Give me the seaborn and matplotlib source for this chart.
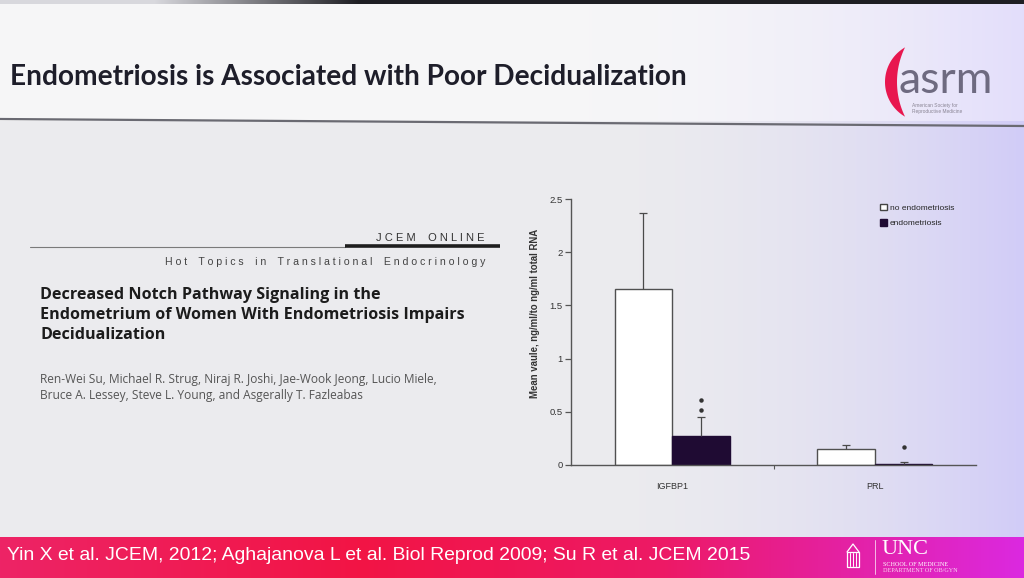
import numpy as np
import pandas as pd
import matplotlib
matplotlib.use("Agg")
import matplotlib.pyplot as plt
import seaborn as sns
from matplotlib.patches import Polygon, Patch, Rectangle

# ---------------- data ----------------
genes = ["IGFBP1", "PRL"]
groups = ["no endometriosis", "endometriosis"]
mean_no = [1.65, 0.15]
mean_endo = [0.27, 0.01]
err_no = [0.72, 0.04]
err_endo = [0.18, 0.02]
sig_gene = ["IGFBP1", "IGFBP1", "PRL"]
sig_y = [0.52, 0.61, 0.17]
y_ticks = [0, 0.5, 1, 1.5, 2, 2.5]
y_tick_labels = ["0", "0.5", "1", "1.5", "2", "2.5"]
y_label = "Mean vaule, ng/ml/to ng/ml total RNA"

slide_title = "Endometriosis is Associated with Poor Decidualization"
paper_title = ["Decreased Notch Pathway Signaling in the",
               "Endometrium of Women With Endometriosis Impairs",
               "Decidualization"]
authors = ["Ren-Wei Su, Michael R. Strug, Niraj R. Joshi, Jae-Wook Jeong, Lucio Miele,",
           "Bruce A. Lessey, Steve L. Young, and Asgerally T. Fazleabas"]
journal = "JCEM ONLINE"
section = "Hot Topics in Translational Endocrinology"
footer = "Yin X et al. JCEM, 2012; Aghajanova L et al. Biol Reprod 2009; Su R et al. JCEM 2015"

sns.set_style("white")
plt.rcParams["font.family"] = ["Liberation Sans", "DejaVu Sans"]

W, H = 1024, 578
fig = plt.figure(figsize=(W / 100, H / 100), dpi=100)

# ---------------- slide background ----------------
bg = fig.add_axes([0, 0, 1, 1], zorder=-10)
bg.set_axis_off()
xs = np.linspace(0, 1, W)
ramp = np.clip((xs - 0.55) / 0.45, 0, 1) ** 2
base_l = np.array([0.925, 0.925, 0.935])
base_r = np.array([0.82, 0.80, 0.97])
row = base_l[None, :] * (1 - ramp[:, None]) + base_r[None, :] * ramp[:, None]
img = np.empty((H, W, 3))
img[:] = row[None, :, :]
tb_l = np.array([0.965, 0.965, 0.972])
tb_r = np.array([0.89, 0.87, 0.985])
trow = tb_l[None, :] * (1 - ramp[:, None]) + tb_r[None, :] * ramp[:, None]
img[4:121] = trow[None]
dark_ramp = np.clip((xs - 0.15) / 0.2, 0, 1)
drow = np.array([0.85, 0.85, 0.87])[None, :] * (1 - dark_ramp[:, None]) + np.array([0.12, 0.12, 0.14])[None, :] * dark_ramp[:, None]
img[0:4] = drow[None]
bx = [0.0, 0.35, 0.65, 1.0]
band = np.stack([np.interp(xs, bx, [0.93, 0.95, 0.93, 0.86]),
                 np.interp(xs, bx, [0.14, 0.08, 0.10, 0.16]),
                 np.interp(xs, bx, [0.40, 0.27, 0.40, 0.88])], axis=1)
img[537:] = band[None]
bg.imshow(img, aspect="auto", extent=[0, W, H, 0], interpolation="bilinear")
bg.set_xlim(0, W)
bg.set_ylim(H, 0)

# title + underline
bg.plot([0, W], [119, 126], color="#6a6a72", lw=1.6)
bg.text(10, 77, slide_title, fontsize=20.2, family=["Lato", "DejaVu Sans"],
        weight="bold", color="#1e1e2a", va="center", ha="left")

# asrm logo
ang = np.linspace(np.radians(120), np.radians(240), 60)
outer = np.column_stack([925 + 40 * np.cos(ang), 82 + 40 * np.sin(ang)])
cx, r = 975.8, 78.8
t_top = np.arctan2(82 - 40 * np.sin(np.radians(60)) - 82, (925 + 40 * np.cos(np.radians(120))) - cx)
ang2 = np.linspace(np.pi + abs(np.pi - abs(t_top)), np.pi - abs(np.pi - abs(t_top)), 60)
inner = np.column_stack([cx + r * np.cos(ang2), 82 + r * np.sin(ang2)])
bg.add_patch(Polygon(np.vstack([outer, inner]), closed=True, color="#e8174f", lw=0))
bg.text(898, 93, "asrm", fontsize=32, family=["Lato", "DejaVu Sans"], color="#6e6a80",
        va="baseline", ha="left")
bg.text(912, 105, "American Society for", fontsize=3.5, color="#8a8594", va="center")
bg.text(912, 111, "Reproductive Medicine", fontsize=3.5, color="#8a8594", va="center")

# journal header block
def spaced(s):
    return " ".join(list(s)).replace("   ", "    ")

bg.text(485, 238, spaced(journal), fontsize=8.0, color="#333333", ha="right", va="center")
bg.plot([30, 345], [247, 247], color="#7a7a7a", lw=0.8)
bg.plot([345, 500], [246, 246], color="#1e1e1e", lw=2.6, solid_capstyle="butt")
bg.text(485, 262, spaced(section), fontsize=7.6, color="#444444", ha="right", va="center")
for i, line in enumerate(paper_title):
    bg.text(40, 295 + 20 * i, line, fontsize=11.6, family=["Open Sans", "DejaVu Sans"],
            weight="bold", color="#1c1c1c", ha="left", va="center")
for i, line in enumerate(authors):
    bg.text(40, 380 + 15 * i, line, fontsize=8.6, family=["Open Sans", "DejaVu Sans"],
            color="#555555", ha="left", va="center")

# footer
bg.text(7, 556, footer, fontsize=13.95, family=["Liberation Sans Narrow", "Liberation Sans"],
        color="white", ha="left", va="center")
# UNC logo
bg.add_patch(Rectangle((847, 552), 12, 15, fill=False, ec="white", lw=0.9))
bg.plot([847, 853, 859], [552, 544, 552], color="white", lw=0.9)
for xx in [850, 853, 856]:
    bg.plot([xx, xx], [553, 566], color="white", lw=0.7)
bg.plot([875, 875], [540, 574], color="white", lw=0.6, alpha=0.8)
bg.text(882, 550, "UNC", fontsize=16, family=["Liberation Serif", "DejaVu Serif"],
        color="white", ha="left", va="center")
bg.text(883, 564, "SCHOOL OF MEDICINE", fontsize=4.4, family=["Liberation Serif", "DejaVu Serif"],
        color="white", ha="left", va="center")
bg.text(883, 571, "DEPARTMENT OF OB/GYN", fontsize=4.4, family=["Liberation Serif", "DejaVu Serif"],
        color="white", ha="left", va="center", alpha=0.8)

# ---------------- chart ----------------
ax = fig.add_axes([571 / W, 1 - 465 / H, (976 - 571) / W, (465 - 199) / H])
ax.patch.set_alpha(0)
dark = "#1f0b33"
df = pd.DataFrame({"gene": genes * 2,
                   "group": [groups[0]] * len(genes) + [groups[1]] * len(genes),
                   "value": mean_no + mean_endo})
sns.barplot(data=df, x="gene", y="value", hue="group", order=genes, hue_order=groups,
            palette=["white", dark], width=0.57, errorbar=None, saturation=1,
            legend=False, ax=ax)
edge_cols = ["#505050", dark]
for cont, ec in zip(ax.containers, edge_cols):
    for b in cont:
        b.set_edgecolor(ec)
        b.set_linewidth(1.0)

cap = 0.02
centers = {}
for gi, (cont, m, e) in enumerate(zip(ax.containers, [mean_no, mean_endo], [err_no, err_endo])):
    bxs = [b.get_x() + b.get_width() / 2 for b in cont]
    for j, (x, mm, ee) in enumerate(zip(bxs, m, e)):
        ax.vlines(x, mm, mm + ee, color="#4a4a4a", lw=0.9, zorder=3)
        ax.hlines(mm + ee, x - cap, x + cap, color="#4a4a4a", lw=0.9, zorder=3)
        centers[(gi, genes[j])] = x
for g, yv in zip(sig_gene, sig_y):
    ax.plot(centers[(1, g)], yv, marker="o", ms=2.2, color="#333333", zorder=4)

ax.set_xlim(-0.5, 1.5)
ax.set_ylim(0, 2.5)
ax.set_yticks(y_ticks)
ax.set_yticklabels(y_tick_labels)
ax.set_xlabel("")
ax.set_ylabel(y_label, fontsize=6.9, fontweight="bold", color="#333333")
ax.yaxis.set_label_coords(-0.077, 0.57)
for s in ["top", "right"]:
    ax.spines[s].set_visible(False)
for s in ["left", "bottom"]:
    ax.spines[s].set_color("#555555")
    ax.spines[s].set_linewidth(1.0)
ax.tick_params(axis="y", direction="out", length=4, width=0.9, color="#555555",
               labelsize=6.8, labelcolor="#333333", pad=2, left=True)
ax.tick_params(axis="x", which="major", length=0, labelsize=6.5, labelcolor="#333333", pad=12)
ax.set_xticks([0.5], minor=True)
ax.tick_params(axis="x", which="minor", direction="out", length=3, width=0.8,
               color="#555555", bottom=True)
ax.legend(handles=[Patch(facecolor="white", edgecolor="#444444", label=groups[0]),
                   Patch(facecolor=dark, edgecolor=dark, label=groups[1])],
          loc="upper left", bbox_to_anchor=(0.755, 0.995), frameon=False, fontsize=6,
          handlelength=0.8, handleheight=0.8, handletextpad=0.4, labelspacing=0.9,
          borderaxespad=0)

fig.savefig("out.png", dpi=100)
